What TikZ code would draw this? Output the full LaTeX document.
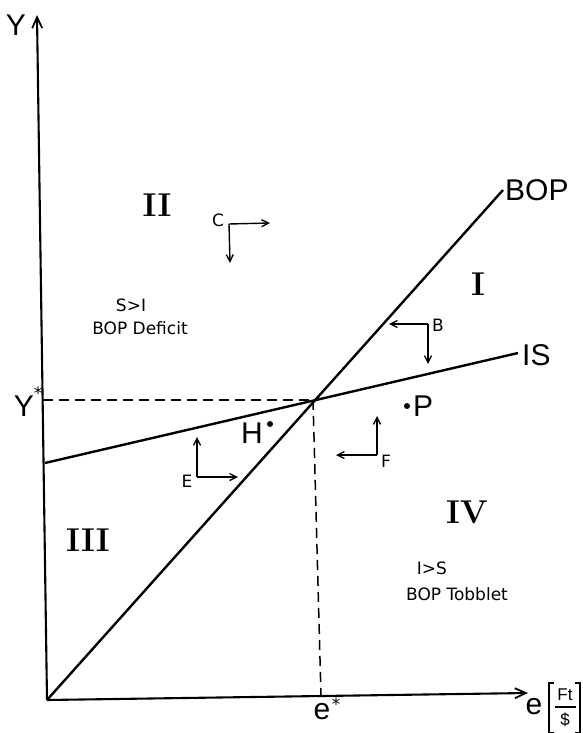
\documentclass[tikz,border=0pt]{standalone}
\usepackage{fontspec}
\setsansfont{Liberation Sans}
\newfontfamily\lettering{DejaVu Sans}
\usetikzlibrary{arrows.meta}
\begin{document}
\begin{tikzpicture}[x=1pt,y=-1pt,
  axis/.style={line width=2.1pt,-{Straight Barb[length=11pt,width=10pt,line width=1.8pt]}},
  curve/.style={line width=2.4pt},
  guide/.style={line width=1.5pt,dash pattern=on 10pt off 6pt},
  mv/.style={line width=1.4pt,-{Straight Barb[length=7pt,width=7pt,line width=1.3pt]}},
  big/.style={font=\sffamily\fontsize{30}{32}\selectfont,inner sep=0pt},
  small/.style={font=\lettering\fontsize{17}{19}\selectfont,inner sep=0pt},
  unit/.style={font=\sffamily\fontsize{17}{19}\selectfont,inner sep=0pt},
  brk/.style={line width=1.3pt},
  roman/.style={font=\rmfamily\bfseries\fontsize{33}{34}\selectfont,inner sep=0pt},
  dotmark/.style={circle,fill=black,inner sep=0pt,minimum size=6pt}
]
\useasboundingbox (0,0) rectangle (583,733);
% coordinates
\coordinate (O) at (47,700);
\coordinate (Ytop) at (37,15);
\coordinate (Xend) at (528,693);
\coordinate (bopT) at (503,190);
\coordinate (isL) at (45,463);
\coordinate (isR) at (518,353);
\coordinate (Q) at (313,400);
\coordinate (Ys) at (42.6,400);
\coordinate (Es) at (321,696);
% axes
\draw[axis] (O) -- (Ytop);
\draw[axis] (O) -- (Xend);
% curves
\draw[curve] (O) -- (bopT);
\draw[curve] (isL) -- (isR);
% guides
\draw[guide] (Ys) -- (Q);
\draw[guide] (Q) -- (Es);
% axis labels
\node[big] (lY) at (16,25) {Y};
\node[big] (lYs) at (24,406) {Y};
\node[small] (lYst) at (38,393) {*};
\node[big] (le) at (322,712) {e};
\node[small] (lest) at (336,704) {*};
\node[big] (lex) at (534,707) {e};
% unit [Ft/$]
\node[unit] (lFt) at (565,695) {Ft};
\node[unit] (lDol) at (565,720) {\$};
\coordinate (fracL) at (555,707);
\coordinate (fracR) at (576,707);
\draw[brk] (fracL) -- (fracR);
\coordinate (bL1) at (554,683);
\coordinate (bL2) at (549,683);
\coordinate (bL3) at (549,733);
\coordinate (bL4) at (554,733);
\coordinate (bR1) at (575,683);
\coordinate (bR2) at (580,683);
\coordinate (bR3) at (580,733);
\coordinate (bR4) at (575,733);
\draw[brk] (bL1) -- (bL2) -- (bL3) -- (bL4);
\draw[brk] (bR1) -- (bR2) -- (bR3) -- (bR4);
% curve labels
\node[big,anchor=west] (lBOP) at (505,190) {BOP};
\node[big,anchor=west] (lIS) at (522,355) {IS};
% regions
\node[roman] (rII) at (157,205) {II};
\node[roman] (rI) at (478,284) {I};
\node[roman] (rIII) at (88,540) {III};
\node[roman] (rIV) at (467,512) {IV};
\node[small] (tSI) at (131,305) {S>I};
\node[small] (tDef) at (140,328) {BOP Deficit};
\node[small] (tIS) at (432,568) {I>S};
\node[small] (tTob) at (457,594) {BOP Tobblet};
% points
\node[big] (lH) at (252,433) {H};
\node[dotmark] (dH) at (270,424) {};
\node[dotmark] (dP) at (407,406) {};
\node[big] (lP) at (423,406) {P};
% movement arrows C
\coordinate (cC) at (229,224);
\coordinate (cCr) at (270,223);
\coordinate (cCd) at (230,263);
\draw[mv] (cC) -- (cCr);
\draw[mv] (cC) -- (cCd);
\node[small] (lC) at (218,220) {C};
% B
\coordinate (cB) at (428,324);
\coordinate (cBl) at (389,324);
\coordinate (cBd) at (428,364);
\draw[mv] (cB) -- (cBl);
\draw[mv] (cB) -- (cBd);
\node[small] (lB) at (438,325) {B};
% E
\coordinate (cE) at (197,477);
\coordinate (cEu) at (197,437);
\coordinate (cEr) at (238,477);
\draw[mv] (cE) -- (cEu);
\draw[mv] (cE) -- (cEr);
\node[small] (lE) at (187,481) {E};
% F
\coordinate (cF) at (377,455);
\coordinate (cFu) at (377,416);
\coordinate (cFl) at (336,455);
\draw[mv] (cF) -- (cFu);
\draw[mv] (cF) -- (cFl);
\node[small] (lF) at (386,461) {F};
\end{tikzpicture}
\end{document}
